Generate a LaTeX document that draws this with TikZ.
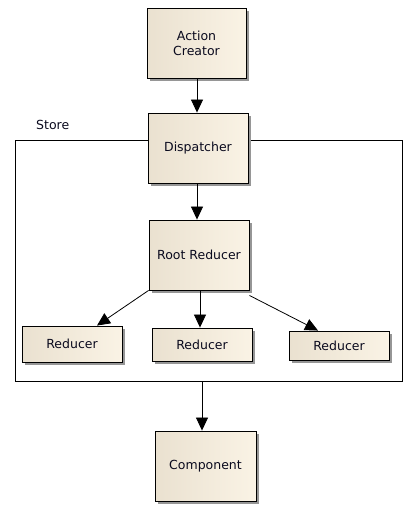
\documentclass[tikz,border=0pt]{standalone}
\usepackage{fontspec}
\setmainfont{DejaVu Sans}
\usetikzlibrary{arrows.meta,shadows,calc}
\definecolor{boxleft}{RGB}{234,225,208}
\definecolor{boxright}{RGB}{250,243,229}
\definecolor{shadowgray}{RGB}{150,150,150}
\definecolor{textcol}{RGB}{10,10,30}
\begin{document}
\begin{tikzpicture}[x=1pt,y=-1pt,
  box/.style={draw=black,line width=0.9pt,left color=boxleft,right color=boxright,
    shading angle=90,inner sep=0pt,align=center,text=textcol,
    font=\fontsize{12.5}{15}\selectfont,
    drop shadow={shadow xshift=3pt,shadow yshift=-3pt,fill=shadowgray,opacity=1}},
  conn/.style={draw=black,line width=0.8pt,-{Triangle[length=13pt,width=12pt]}},
  frame/.style={draw=black,line width=0.9pt}]
\useasboundingbox (0,0) rectangle (411,512);
% store frame
\node[frame,anchor=north west,minimum width=387pt,minimum height=241pt,inner sep=0pt] (store) at (15,140) {};
\node[anchor=base west,inner sep=0pt,text=textcol,font=\fontsize{12.5}{15}\selectfont] (storelbl) at (36,129) {Store};
\coordinate (storeb) at (202,381);
% nodes
\node[box,minimum width=99pt,minimum height=70pt] (ac) at (196.5,43) {Action\\Creator};
\node[box,minimum width=100pt,minimum height=70pt] (disp) at (198,148) {Dispatcher};
\node[box,minimum width=100pt,minimum height=70pt] (root) at (199,255) {Root Reducer};
\node[box,minimum width=100pt,minimum height=36pt] (r1) at (72,344) {Reducer};
\node[box,minimum width=100pt,minimum height=33pt] (r2) at (202,344.5) {Reducer};
\node[box,minimum width=100pt,minimum height=29pt] (r3) at (339,345.5) {Reducer};
\node[box,minimum width=101pt,minimum height=70pt] (comp) at (205.5,466) {Component};
% connectors
\draw[conn] ([xshift=0.5pt]ac.south) -- ([xshift=0.5pt]ac.south |- disp.north);
\draw[conn] ([xshift=-1pt]disp.south) -- ([xshift=-1pt]disp.south |- root.north);
\draw[conn] (root.south west) -- ([xshift=25pt]r1.north);
\draw[conn] ([xshift=1pt]root.south) -- ([xshift=1pt]root.south |- r2.north);
\draw[conn] ([yshift=-5pt]root.south east) -- ([xshift=-21pt]r3.north);
\draw[conn] (storeb) -- (storeb |- comp.north);
\end{tikzpicture}
\end{document}
